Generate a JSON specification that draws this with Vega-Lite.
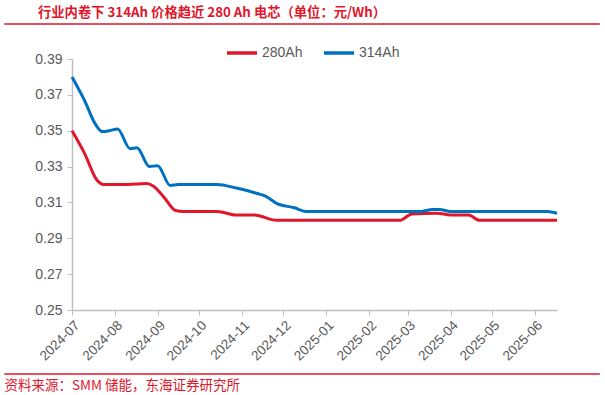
{
  "$schema": "https://vega.github.io/schema/vega-lite/v6.json",
  "width": 485,
  "height": 251,
  "autosize": "none",
  "padding": {"left": 72, "top": 59, "right": 48, "bottom": 85},
  "background": "white",
  "title": {
    "text": "行业内卷下 314Ah 价格趋近 280 Ah 电芯（单位：元/Wh）",
    "anchor": "start",
    "frame": "group",
    "dx": -34,
    "offset": 4,
    "font": "Noto Sans CJK SC",
    "fontSize": 13.3,
    "fontWeight": "bold",
    "color": "#E0162B"
  },
  "config": {
    "view": {"stroke": null},
    "font": "Liberation Sans"
  },
  "resolve": {"axis": {"x": "independent", "y": "independent"}},
  "datasets": {
    "prices": [
      {"date": "2024-07-01", "series": "280Ah", "price": 0.350},
      {"date": "2024-07-10", "series": "280Ah", "price": 0.3375},
      {"date": "2024-07-19", "series": "280Ah", "price": 0.3225},
      {"date": "2024-07-24", "series": "280Ah", "price": 0.320},
      {"date": "2024-08-10", "series": "280Ah", "price": 0.320},
      {"date": "2024-08-24", "series": "280Ah", "price": 0.3205},
      {"date": "2024-08-29", "series": "280Ah", "price": 0.319},
      {"date": "2024-09-06", "series": "280Ah", "price": 0.3125},
      {"date": "2024-09-14", "series": "280Ah", "price": 0.3055},
      {"date": "2024-09-20", "series": "280Ah", "price": 0.305},
      {"date": "2024-10-14", "series": "280Ah", "price": 0.305},
      {"date": "2024-10-28", "series": "280Ah", "price": 0.303},
      {"date": "2024-11-10", "series": "280Ah", "price": 0.303},
      {"date": "2024-11-26", "series": "280Ah", "price": 0.300},
      {"date": "2025-01-15", "series": "280Ah", "price": 0.300},
      {"date": "2025-02-23", "series": "280Ah", "price": 0.300},
      {"date": "2025-03-04", "series": "280Ah", "price": 0.3035},
      {"date": "2025-03-22", "series": "280Ah", "price": 0.304},
      {"date": "2025-04-01", "series": "280Ah", "price": 0.303},
      {"date": "2025-04-14", "series": "280Ah", "price": 0.303},
      {"date": "2025-04-22", "series": "280Ah", "price": 0.300},
      {"date": "2025-05-20", "series": "280Ah", "price": 0.300},
      {"date": "2025-06-17", "series": "280Ah", "price": 0.300},
      {"date": "2024-07-01", "series": "314Ah", "price": 0.380},
      {"date": "2024-07-10", "series": "314Ah", "price": 0.367},
      {"date": "2024-07-18", "series": "314Ah", "price": 0.3535},
      {"date": "2024-07-23", "series": "314Ah", "price": 0.3495},
      {"date": "2024-07-28", "series": "314Ah", "price": 0.350},
      {"date": "2024-08-03", "series": "314Ah", "price": 0.351},
      {"date": "2024-08-12", "series": "314Ah", "price": 0.340},
      {"date": "2024-08-17", "series": "314Ah", "price": 0.3405},
      {"date": "2024-08-26", "series": "314Ah", "price": 0.330},
      {"date": "2024-09-01", "series": "314Ah", "price": 0.3305},
      {"date": "2024-09-10", "series": "314Ah", "price": 0.3195},
      {"date": "2024-09-16", "series": "314Ah", "price": 0.320},
      {"date": "2024-10-14", "series": "314Ah", "price": 0.320},
      {"date": "2024-10-28", "series": "314Ah", "price": 0.318},
      {"date": "2024-11-12", "series": "314Ah", "price": 0.315},
      {"date": "2024-11-18", "series": "314Ah", "price": 0.3135},
      {"date": "2024-11-26", "series": "314Ah", "price": 0.3095},
      {"date": "2024-12-09", "series": "314Ah", "price": 0.307},
      {"date": "2024-12-17", "series": "314Ah", "price": 0.305},
      {"date": "2025-01-30", "series": "314Ah", "price": 0.305},
      {"date": "2025-03-10", "series": "314Ah", "price": 0.305},
      {"date": "2025-03-19", "series": "314Ah", "price": 0.306},
      {"date": "2025-03-24", "series": "314Ah", "price": 0.306},
      {"date": "2025-04-01", "series": "314Ah", "price": 0.305},
      {"date": "2025-05-10", "series": "314Ah", "price": 0.305},
      {"date": "2025-06-10", "series": "314Ah", "price": 0.305},
      {"date": "2025-06-17", "series": "314Ah", "price": 0.304}
    ],
    "dividers": [
      {"start": "2024-05-13", "end": "2025-07-18", "level": 0.4095},
      {"start": "2024-05-13", "end": "2025-07-18", "level": 0.2143}
    ]
  },
  "layer": [
    {
      "data": {"name": "prices"},
      "mark": {"type": "line", "strokeWidth": 3, "interpolate": "monotone", "clip": false},
      "encoding": {
        "x": {
          "field": "date",
          "type": "temporal",
          "scale": {
            "type": "utc",
            "domain": [
              {"year": 2024, "month": 7, "date": 1, "utc": true},
              {"year": 2025, "month": 6, "date": 17, "utc": true}
            ]
          },
          "axis": {
            "labelExpr": "utcFormat(datum.value, '%Y-%m')",
            "tickCount": {"interval": "month", "step": 1},
            "labelOverlap": false,
            "labelAngle": -45,
            "labelFontSize": 13.5,
            "labelColor": "#595959",
            "labelPadding": 3,
            "tickSize": 5,
            "tickColor": "#BFBFBF",
            "domainColor": "#BFBFBF",
            "domainWidth": 1.5,
            "grid": false,
            "title": "资料来源：SMM 储能，东海证券研究所",
            "titleFont": "Noto Sans CJK SC",
            "titleFontSize": 13.5,
            "titleFontWeight": "normal",
            "titleColor": "#E0162B",
            "titleAnchor": "start",
            "titleAlign": "left",
            "titleBaseline": "alphabetic",
            "titleX": -68,
            "titleY": 79
          }
        },
        "y": {
          "field": "price",
          "type": "quantitative",
          "scale": {"domain": [0.25, 0.39], "zero": false, "nice": false},
          "axis": {
            "values": [0.25, 0.27, 0.29, 0.31, 0.33, 0.35, 0.37, 0.39],
            "format": ".2f",
            "labelOverlap": false,
            "labelFontSize": 14,
            "labelColor": "#595959",
            "labelPadding": 5,
            "tickSize": 5,
            "tickColor": "#BFBFBF",
            "domainColor": "#BFBFBF",
            "domainWidth": 1.5,
            "grid": false,
            "title": null
          }
        },
        "color": {
          "field": "series",
          "type": "nominal",
          "scale": {"domain": ["280Ah", "314Ah"], "range": ["#E0162B", "#0070C0"]},
          "legend": {
            "title": null,
            "orient": "none",
            "direction": "horizontal",
            "legendX": 153,
            "legendY": -23,
            "symbolType": "stroke",
            "symbolSize": 900,
            "symbolStrokeWidth": 3.5,
            "labelFontSize": 14,
            "labelColor": "#595959",
            "labelOffset": 3,
            "columnPadding": 14
          }
        }
      }
    },
    {
      "data": {"name": "dividers"},
      "mark": {"type": "rule", "color": "#E0162B", "strokeWidth": 1.5, "clip": false},
      "encoding": {
        "x": {"field": "start", "type": "temporal", "axis": null},
        "x2": {"field": "end"},
        "y": {"field": "level", "type": "quantitative", "axis": null}
      }
    }
  ]
}
